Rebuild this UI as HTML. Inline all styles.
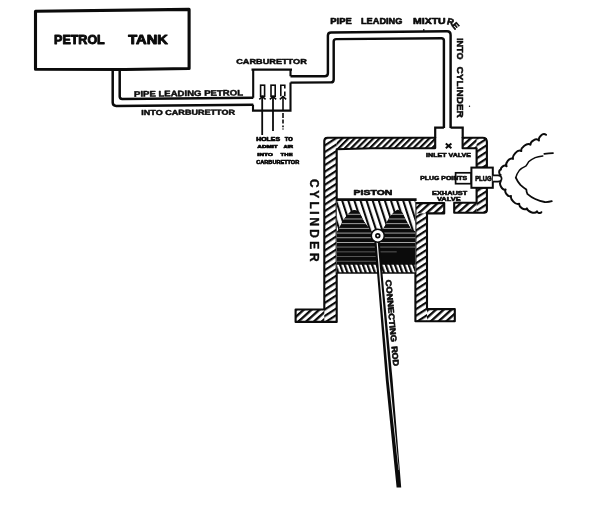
<!DOCTYPE html>
<html>
<head>
<meta charset="utf-8">
<title>Petrol engine diagram</title>
<style>
html,body{margin:0;padding:0;background:#fff;}
body{width:600px;height:507px;overflow:hidden;font-family:"Liberation Sans",sans-serif;}
svg{display:block;will-change:transform;opacity:0.999;}
text{font-family:"Liberation Sans",sans-serif;font-weight:bold;fill:#0b0b0b;stroke-linejoin:round;}
</style>
</head>
<body>
<svg width="600" height="507" viewBox="0 0 600 507">
<defs>
  <pattern id="hv" width="5.5" height="5.5" patternUnits="userSpaceOnUse" patternTransform="translate(0 1) rotate(-33)">
    <rect x="0" y="0" width="5.5" height="2.2" fill="#0b0b0b"/>
  </pattern>
  <pattern id="ht" width="4.4" height="4.4" patternUnits="userSpaceOnUse" patternTransform="rotate(-45)">
    <rect x="0" y="0" width="4.4" height="2.2" fill="#0b0b0b"/>
  </pattern>
  <pattern id="hf" width="5.2" height="5.2" patternUnits="userSpaceOnUse" patternTransform="translate(1 0) rotate(-42)">
    <rect x="0" y="0" width="5.2" height="2.3" fill="#0b0b0b"/>
  </pattern>
  <pattern id="hp" width="5.8" height="5.8" patternUnits="userSpaceOnUse" patternTransform="translate(1.5 0) rotate(-18)">
    <rect x="0" y="0" width="2.1" height="5.8" fill="#0b0b0b"/>
  </pattern>
  <pattern id="hb" width="4.3" height="4.3" patternUnits="userSpaceOnUse" patternTransform="rotate(-20)">
    <rect x="0" y="0" width="2.2" height="4.3" fill="#0b0b0b"/>
  </pattern>
  <pattern id="hd" width="4.7" height="4.7" patternUnits="userSpaceOnUse" patternTransform="translate(0 2.3)">
    <rect x="0" y="0" width="4.7" height="4.7" fill="#0b0b0b"/>
    <rect x="0" y="0" width="4.7" height="0.75" fill="#d0d0d0"/>
  </pattern>
  <pattern id="hd2" width="4.7" height="4.7" patternUnits="userSpaceOnUse" patternTransform="translate(0 2.3)">
    <rect x="0" y="0" width="4.7" height="4.7" fill="#0b0b0b"/>
    <rect x="0" y="0" width="4.7" height="0.6" fill="#8a8a8a"/>
  </pattern>
</defs>
<rect x="0" y="0" width="600" height="507" fill="#ffffff"/>

<path d="M35.5 11.3 L189.1 9.4 L189.1 68.5 L125 69.5 L35.5 69.3 Z" fill="none" stroke="#0b0b0b" stroke-width="3.1" stroke-linejoin="round"/>
<text x="54.05" y="44.45" font-size="11.92" textLength="50.70" lengthAdjust="spacingAndGlyphs" stroke="#0b0b0b" stroke-width="0.9">PETROL</text>
<text x="128.25" y="44.05" font-size="11.92" textLength="39.50" lengthAdjust="spacingAndGlyphs" stroke="#0b0b0b" stroke-width="0.9">TANK</text>
<g fill="none" stroke="#0b0b0b" stroke-width="2.5" stroke-linejoin="round"><path d="M112.7 69 L112.7 102.6 Q112.7 105.9 116.2 105.9 L253.3 104.7"/><path d="M119.7 69 L119.7 96.6 Q119.7 99 122.2 99 L253.3 97.7"/></g>
<text transform="translate(134.00 96.70) rotate(-0.7)" font-size="7.92" textLength="109.00" lengthAdjust="spacingAndGlyphs" stroke="#0b0b0b" stroke-width="0.45">PIPE LEADING PETROL</text>
<text transform="translate(141.30 115.00) rotate(-0.2)" font-size="7.19" textLength="93.70" lengthAdjust="spacingAndGlyphs" stroke="#0b0b0b" stroke-width="0.45">INTO CARBURETTOR</text>
<text x="236.22" y="63.57" font-size="7.19" textLength="70.55" lengthAdjust="spacingAndGlyphs" stroke="#0b0b0b" stroke-width="0.45">CARBURETTOR</text>
<g fill="none" stroke="#0b0b0b" stroke-width="2.1">
  <path d="M251.5 69.7 L292 69.7" stroke-width="2.3"/>
  <path d="M253.2 69.7 L253.2 97.7 M253 104.7 L253 110.6 L290.5 110.6 L290.5 82.6 M290.5 76.3 L290.5 69.7"/>
  <rect x="260.6" y="85.2" width="4" height="11" stroke-width="1.6"/>
  <rect x="271" y="85.2" width="4.2" height="11" stroke-width="1.6"/>
  <path d="M280.8 96.2 L280.8 85.2 L284.8 85.2 L284.8 88.4 M284.8 91.6 L284.8 96.2" stroke-width="1.6"/>
  <path d="M262.2 96.2 L262.2 135" stroke-width="1.8"/>
  <path d="M273 96.2 L273 131" stroke-width="1.8"/>
  <path d="M283 96.2 L283 111 M283 113 L283 118 M283 119.6 L283 123.6 M283 125.4 L283 127.2 M283 128.4 L283 129.6" stroke-width="1.6"/>
  <path d="M259.3 99.4 L262.4 96.6 L265.6 99.4 M269.8 99.4 L273 96.6 L276.2 99.4 M279.8 99.4 L283 96.6 L286.2 99.4" stroke-width="1.5"/>
</g>
<text x="256.30" y="140.80" font-size="4.51" textLength="23.70" lengthAdjust="spacingAndGlyphs" stroke="#0b0b0b" stroke-width="0.6">HOLES</text>
<text x="284.80" y="140.80" font-size="4.51" textLength="7.90" lengthAdjust="spacingAndGlyphs" stroke="#0b0b0b" stroke-width="0.6">TO</text>
<text x="257.30" y="147.90" font-size="4.22" textLength="20.40" lengthAdjust="spacingAndGlyphs" stroke="#0b0b0b" stroke-width="0.6">ADMIT</text>
<text x="283.40" y="147.90" font-size="4.22" textLength="9.70" lengthAdjust="spacingAndGlyphs" stroke="#0b0b0b" stroke-width="0.6">AIR</text>
<text x="257.30" y="155.70" font-size="4.36" textLength="15.70" lengthAdjust="spacingAndGlyphs" stroke="#0b0b0b" stroke-width="0.6">INTO</text>
<text x="280.60" y="155.70" font-size="4.36" textLength="12.10" lengthAdjust="spacingAndGlyphs" stroke="#0b0b0b" stroke-width="0.6">THE</text>
<text x="256.30" y="163.60" font-size="4.94" textLength="42.90" lengthAdjust="spacingAndGlyphs" stroke="#0b0b0b" stroke-width="0.6">CARBURETTOR</text>
<g fill="none" stroke="#0b0b0b" stroke-width="2.45" stroke-linejoin="round"><path d="M290.5 76.3 L324.7 76.2 Q327.9 76.2 327.9 73.2 L327.9 35.6 Q327.9 32.5 331 32.5 L447 31.2 Q450.6 31.2 450.6 35 L450.6 128"/><path d="M290.5 82.6 L330.7 82.4 Q333.7 82.4 333.7 79.4 L333.7 41.5 Q333.7 39.1 336.2 39.1 L441.3 38.2 Q443.9 38.2 443.9 40.6 L443.9 128"/></g>
<text x="330.30" y="23.90" font-size="8.87" textLength="21.40" lengthAdjust="spacingAndGlyphs" stroke="#0b0b0b" stroke-width="0.6">PIPE</text>
<text x="361.00" y="23.70" font-size="8.87" textLength="41.40" lengthAdjust="spacingAndGlyphs" stroke="#0b0b0b" stroke-width="0.6">LEADING</text>
<text x="413.00" y="23.50" font-size="8.87" textLength="32.70" lengthAdjust="spacingAndGlyphs" stroke="#0b0b0b" stroke-width="0.6">MIXTU</text>
<text transform="translate(446.60 24.00) rotate(15)" font-size="9.30" stroke="#0b0b0b" stroke-width="0.6">R</text>
<text transform="translate(451.60 25.60) rotate(50)" font-size="8.72" stroke="#0b0b0b" stroke-width="0.6">E</text>
<text transform="translate(457.00 38.00) rotate(90)" font-size="9.74" textLength="21.60" lengthAdjust="spacingAndGlyphs" stroke="#0b0b0b" stroke-width="0.5">INTO</text>
<text transform="translate(457.00 66.60) rotate(90)" font-size="9.74" textLength="51.20" lengthAdjust="spacingAndGlyphs" stroke="#0b0b0b" stroke-width="0.5">CYLINDER</text>
<circle cx="469.5" cy="106.2" r="0.7" fill="#0b0b0b"/>
<path d="M423.8 29 L423.8 31" stroke="#0b0b0b" stroke-width="1.2"/>
<g id="cylfill">
<rect x="324.3" y="137.7" width="12.40" height="184.20" fill="url(#hv)"/>
<path d="M336.7 137.7 L435.2 137.7 L435.2 148.1 L372 148.3 L336.7 149.2 Z" fill="url(#ht)"/>
<rect x="295.6" y="309.5" width="28.70" height="12.40" fill="url(#hf)"/>
<rect x="462.6" y="137.7" width="14.00" height="10.50" fill="url(#hf)"/>
<rect x="476.6" y="137.7" width="10.30" height="29.80" fill="url(#hv)"/>
<rect x="476.6" y="187.8" width="10.30" height="25.00" fill="url(#hv)"/>
<rect x="454.2" y="202.8" width="22.40" height="10.00" fill="url(#hf)"/>
<rect x="415.4" y="203.1" width="28.80" height="10.30" fill="url(#hf)"/>
<rect x="415.4" y="213.4" width="11.60" height="107.90" fill="url(#hv)"/>
<rect x="427.0" y="309.1" width="27.80" height="12.20" fill="url(#hf)"/>
</g>
<g id="cyl">
  <path fill="none" stroke="#0b0b0b" stroke-width="2.1" stroke-linejoin="round" d="M327.3 137.7 L435.2 137.7 L435.2 148.1 L372 148.3 L336.7 149.2 L336.7 321.9 L295.6 321.9 L295.6 309.5 L324.3 309.5 L324.3 140.7 Q324.3 137.7 327.3 137.7 Z"/>
  <path fill="none" stroke="#0b0b0b" stroke-width="2.1" stroke-linejoin="round" d="M462.6 137.7 L482.9 137.7 Q486.9 137.7 486.9 141.7 L486.9 167.5 L476.6 167.5 L476.6 148.2 L462.6 148.2 Z"/>
  <path fill="none" stroke="#0b0b0b" stroke-width="2.1" stroke-linejoin="round" d="M476.6 187.8 L486.9 187.8 L486.9 210.3 Q486.9 212.8 484.4 212.8 L454.2 212.8 L454.2 202.8 L476.6 202.8 Z"/>
  <path fill="none" stroke="#0b0b0b" stroke-width="2.1" stroke-linejoin="round" d="M415.4 203.1 L444.2 203.1 L444.2 213.4 L427.0 213.4 L427.0 309.1 L454.8 309.1 L454.8 321.3 L415.4 321.3 Z"/>
</g>
<path d="M322.9 136.3 L327.3 136.3 Q323.2 136.6 322.9 140.7 Z" fill="#fff"/>
<path d="M488.2 136.3 L482.9 136.3 Q487.9 136.6 488.2 141.7 Z" fill="#fff"/>
<path d="M488.2 214.10000000000002 L484.4 214.10000000000002 Q488.0 213.9 488.2 210.3 Z" fill="#fff"/>
<g fill="none" stroke="#0b0b0b" stroke-width="2.2" stroke-linejoin="miter"><path d="M443.9 127.7 L435.2 127.7 L435.2 138"/><path d="M450.6 127.7 L462.7 127.7 L462.7 138"/></g>
<path d="M445.8 143.5 L451.4 148.2 M451.4 143.5 L445.8 148.2" stroke="#0b0b0b" stroke-width="2" fill="none"/>
<text x="426.05" y="156.65" font-size="5.23" textLength="45.00" lengthAdjust="spacingAndGlyphs" stroke="#0b0b0b" stroke-width="0.5">INLET VALVE</text>
<text x="420.25" y="180.05" font-size="5.23" textLength="46.80" lengthAdjust="spacingAndGlyphs" stroke="#0b0b0b" stroke-width="0.5">PLUG POINTS</text>
<text x="432.05" y="194.55" font-size="5.09" textLength="35.20" lengthAdjust="spacingAndGlyphs" stroke="#0b0b0b" stroke-width="0.5">EXHAUST</text>
<text x="436.95" y="200.85" font-size="5.09" textLength="23.80" lengthAdjust="spacingAndGlyphs" stroke="#0b0b0b" stroke-width="0.5">VALVE</text>
<g fill="none" stroke="#0b0b0b" stroke-width="2">
  <rect x="455.6" y="172.8" width="15.6" height="10.9" stroke-width="1.7"/>
  <rect x="471.4" y="167.6" width="21.4" height="20.2" fill="#fff"/>
  <path d="M492.8 175.3 L498 175.3 Q501.6 175.6 501.6 178.5 Q501.6 181.4 498 181.7 L492.8 181.7" stroke-width="1.7" fill="#fff"/>
</g>
<text x="475.15" y="181.25" font-size="7.99" textLength="16.50" lengthAdjust="spacingAndGlyphs" stroke="#0b0b0b" stroke-width="0.7">PLUG</text>
<g fill="none" stroke="#0b0b0b" stroke-width="2" stroke-linecap="round" stroke-linejoin="round">
<path d="M500.6 175.0 C498.9 174.4 498.4 170.1 500.9 169.6 C500.4 167.5 504.4 164.1 506.6 166.3 C505.1 163.7 509.1 157.1 513.0 158.9 C511.9 156.0 517.4 148.9 521.3 151.0 C520.6 148.0 527.0 142.0 530.5 144.7 C530.1 141.7 536.1 137.3 539.0 140.5 C537.9 137.7 542.5 132.3 546.0 134.8"/>
<path d="M500.6 181.6 C498.9 183.8 501.8 190.6 505.6 189.5 C504.2 191.7 507.6 197.5 511.0 196.0 C510.0 198.7 515.6 205.6 519.2 203.7 C518.6 206.4 524.0 211.1 526.9 208.4 C527.2 211.2 534.7 214.7 537.0 211.4 C537.2 212.7 540.4 213.9 541.3 212.2"/>
<path d="M542.8 156 Q538 156.6 535.2 157.6 Q530.5 159.8 528.6 161.8 Q527 164.6 525.7 166.2 Q521.5 168 519.2 170.6 Q516.6 174 515.8 177.6" stroke-width="1.45"/>
<path d="M544.3 153.8 Q549 153.2 553 153.1" stroke-width="1.7"/>
<path d="M515.8 177.6 Q517.5 181.6 520.4 184.8 Q523.5 187.6 526.3 189.5 Q526.4 192 527.6 194.2 Q531 197.2 535.2 199 Q540 201.2 544.7 202 Q548.5 202.2 551.8 201.2" stroke-width="1.8"/>
</g>
<text x="353.60" y="195.20" font-size="7.56" textLength="38.80" lengthAdjust="spacingAndGlyphs" stroke="#0b0b0b" stroke-width="0.6">PISTON</text>
<g id="piston">
  <clipPath id="cpd"><path d="M337 232 L339.5 228 L342.3 221.6 L347.2 215 L351 211.2 L354.3 210 L357.5 211 L359.6 212.7 L364 221.6 L368.5 227.8 L372 232.3 L377.8 236 L382.8 229.6 L385.4 225.2 L389 218 L393.4 212.7 L397.8 209.6 L402.3 212.7 L406.7 221.6 L411.2 229.6 L415.4 231.5 L415.4 264 L337 264 Z"/></clipPath>
  <rect x="336.7" y="199.7" width="78.7" height="73.3" fill="#fff"/>
  <rect x="336.7" y="199.7" width="78.7" height="37" fill="url(#hp)"/>
  <path d="M337 232 L339.5 228 L342.3 221.6 L347.2 215 L351 211.2 L354.3 210 L357.5 211 L359.6 212.7 L364 221.6 L368.5 227.8 L372 232.3 L377.8 236 L382.8 229.6 L385.4 225.2 L389 218 L393.4 212.7 L397.8 209.6 L402.3 212.7 L406.7 221.6 L411.2 229.6 L415.4 231.5 L415.4 264 L337 264 Z" fill="#0b0b0b"/>
  <g clip-path="url(#cpd)">
    <rect x="336.7" y="205" width="78.7" height="42.6" fill="url(#hd)"/>
    <rect x="336.7" y="247.6" width="40" height="16.4" fill="url(#hd2)"/>
    <rect x="376.7" y="247.6" width="20" height="7" fill="url(#hd2)"/>
  </g>
  <rect x="336.7" y="264" width="78.7" height="9" fill="url(#hb)"/>
  <path d="M336.2 199.6 L416.59999999999997 199.6" stroke="#0b0b0b" stroke-width="2.6"/>
  <path d="M336.2 273 L415.9 273" stroke="#0b0b0b" stroke-width="1.7"/>
  <path d="M336.7 264 L415.4 264" stroke="#0b0b0b" stroke-width="1.3"/>
</g>
<g id="rod">
  <path d="M374.4 242 L379.7 242 L384 290 L392.6 380 L401.2 487.6 L396.6 487.6 L385.8 380 L378.5 290 Z" fill="#0b0b0b" stroke="none"/>
  <path d="M376.5 242 L377.7 242 L381.9 290 L389.9 380 L398.9 470 L398.5 470 L388.6 380 L380.6 290 Z" fill="#f4f4f4" stroke="none"/>
</g>
<circle cx="377.8" cy="235.7" r="6.5" fill="#fff" stroke="#0b0b0b" stroke-width="1.5"/>
<circle cx="377.8" cy="235.7" r="1.9" fill="#fff" stroke="#0b0b0b" stroke-width="1.7"/>
<text transform="translate(385.60 280.00) rotate(85)" font-size="8.14" textLength="62.50" lengthAdjust="spacingAndGlyphs" stroke="#0b0b0b" stroke-width="0.6">CONNECTING</text>
<text transform="translate(391.50 346.40) rotate(85)" font-size="8.28" textLength="20.00" lengthAdjust="spacingAndGlyphs" stroke="#0b0b0b" stroke-width="0.6">ROD</text>
<text transform="translate(309.9 0) rotate(90)" x="183.3 194.2 205.2 212.8 221.8 233.6 245.2 257.3" y="0" text-anchor="middle" font-size="11.92" stroke="#0b0b0b" stroke-width="0.35">CYLINDER</text>
</svg>
</body>
</html>
